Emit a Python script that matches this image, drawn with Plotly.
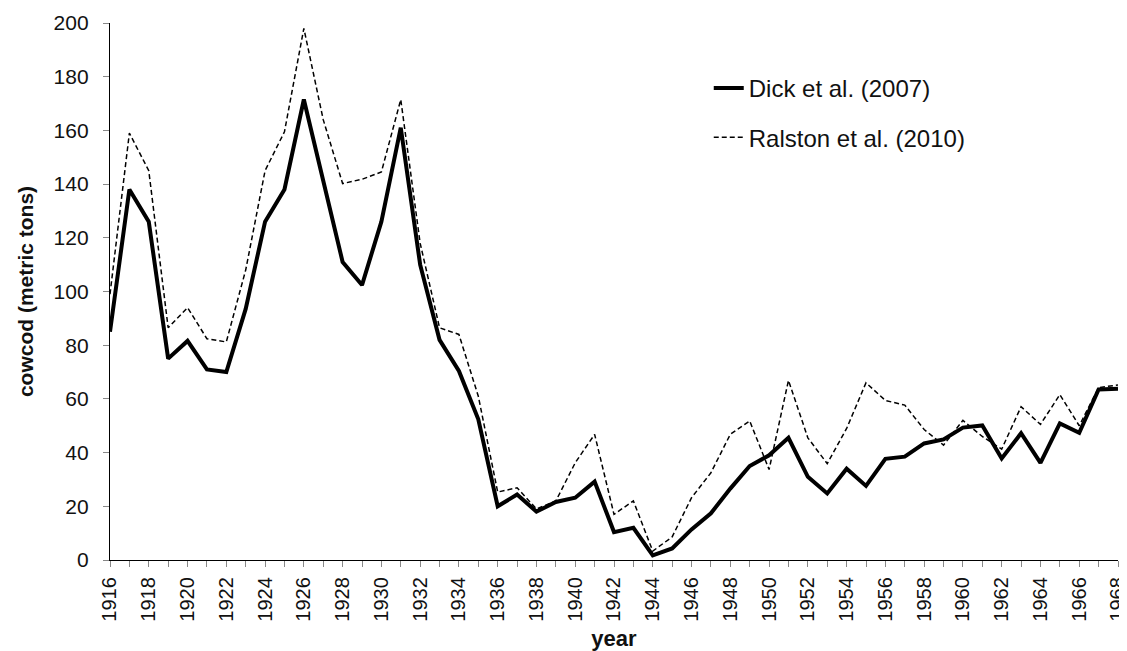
import plotly.graph_objects as go

years = list(range(1916, 1969))

dick_2007 = [
    85, 138, 126, 75, 81.6, 71, 70, 93.5, 126, 138,
    171.5, 141, 111, 102.4, 126, 161, 110, 82, 70.4, 52.4,
    20, 24.4, 18, 21.6, 23.2, 29.2, 10.4, 12, 1.7, 4.3,
    11.4, 17.4, 26.6, 35, 39, 45.5, 31, 24.8, 34, 27.6,
    37.7, 38.5, 43.4, 44.9, 49.3, 50.1, 37.8, 47.2, 36.2, 50.9,
    47.4, 63.5, 63.8,
]

ralston_2010 = [
    99, 159, 145, 86.5, 94, 82.4, 81.2, 108, 145, 159.5,
    198, 164, 140.2, 141.8, 144.5, 171.5, 118, 86.5, 84, 61,
    25.3, 26.9, 19, 22, 36.2, 46.8, 17, 22, 3.3, 8.6,
    23.2, 32.5, 46.8, 51.8, 33.7, 66.9, 45.5, 35.9, 49, 66,
    59.4, 57.7, 48.6, 42.8, 52, 46, 41.3, 57.1, 50.5, 61.6,
    50, 64.2, 65.2,
]

FONT = "Liberation Sans, Arial, sans-serif"

fig = go.Figure()
fig.add_trace(go.Scatter(x=years, y=dick_2007, mode="lines",
                         name="Dick et al. (2007)", legendgroup="a",
                         line=dict(color="black", width=4)))
fig.add_trace(go.Scatter(x=years, y=ralston_2010, mode="lines",
                         name="Ralston et al. (2010)", legendgroup="b",
                         line=dict(color="black", width=1.5, dash="5px,3px")))

fig.update_layout(
    template="none",
    width=1127, height=651,
    margin=dict(l=102, r=17, t=15, b=99),
    paper_bgcolor="white", plot_bgcolor="white",
    font=dict(family=FONT, color="#111111"),
    showlegend=True,
    legend=dict(x=0.594, y=0.92, xanchor="left", yanchor="top",
                font=dict(size=24, color="#111111"),
                tracegroupgap=15, bgcolor="rgba(0,0,0,0)"),
)

fig.update_xaxes(
    range=[1916, 1968], tickmode="linear", tick0=1916, dtick=2,
    tickangle=-90, tickfont=dict(size=20), ticklabelstandoff=2,
    ticks="outside", ticklen=6, tickcolor="#888888", tickwidth=1,
    minor=dict(dtick=1, tick0=1916, ticks="outside", ticklen=6,
               tickcolor="#888888", tickwidth=1),
    showline=True, linecolor="black", linewidth=1.3,
    showgrid=False, zeroline=False, automargin=False,
    title=dict(text="<b>year</b>", font=dict(size=22), standoff=9),
)
fig.update_yaxes(
    range=[0, 200], tickmode="linear", tick0=0, dtick=20,
    tickfont=dict(size=21), ticklabelstandoff=10,
    ticks="outside", ticklen=6, tickcolor="#888888", tickwidth=1,
    showline=True, linecolor="black", linewidth=1.3,
    showgrid=False, zeroline=False, automargin=False,
    title=dict(text="<b>cowcod (metric tons)</b>", font=dict(size=21), standoff=14),
)

fig.write_html("out.html")
